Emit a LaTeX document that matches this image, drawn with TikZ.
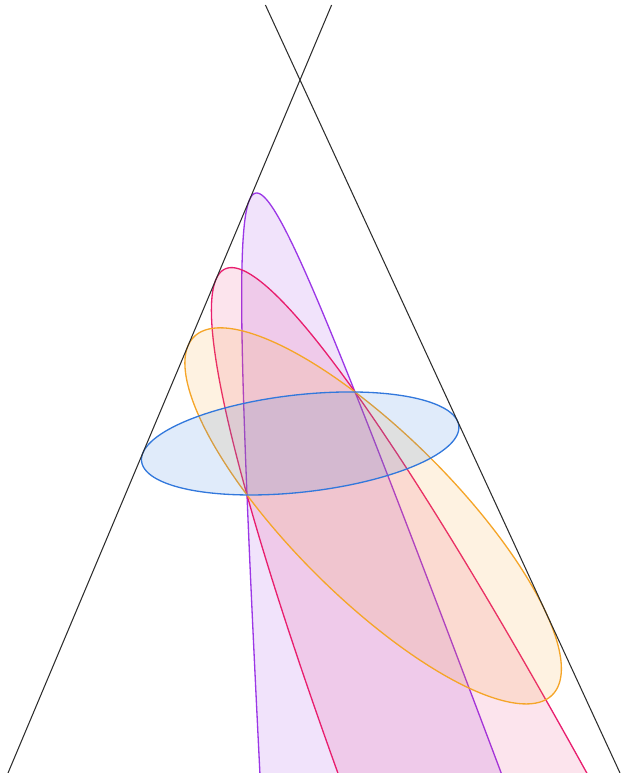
\documentclass[tikz,border=0pt]{standalone}
\definecolor{cblue}{RGB}{50,120,220}
\definecolor{corange}{RGB}{245,165,40}
\definecolor{cpink}{RGB}{232,30,110}
\definecolor{cpurple}{RGB}{155,55,230}
\definecolor{cline}{RGB}{45,45,45}
% common points P1, P2 in the (a,b) frame spanned by the two lines
\pgfmathsetmacro\aP{0.3997}
\pgfmathsetmacro\bP{0.1991}
\pgfmathsetmacro\aQ{0.14554}
\pgfmathsetmacro\bQ{0.30468}
\pgfmathsetmacro\rr{sqrt(\aP*\bP/(\aQ*\bQ))}
\pgfmathsetmacro\Ca{\aP+\rr*\aQ}
\pgfmathsetmacro\Cb{\bP+\rr*\bQ}
\pgfmathsetmacro\Cc{1+\rr}
\newcommand\setconic[1]{%
  \pgfmathsetmacro\CP{1/#1}%
  \pgfmathsetmacro\CQ{(\Cc-\Ca*\CP)/\Cb}%
  \pgfmathsetmacro\CMM{\CP*\aP+\CQ*\bP-1}%
  \pgfmathsetmacro\CS{sqrt(\CMM*\CMM/(\aP*\bP))}%
  \pgfmathsetmacro\CU{(\CP+\CQ)/2}%
  \pgfmathsetmacro\CV{(\CP-\CQ)/2}%
  \pgfmathsetmacro\CW{\CS/2}%
}
\begin{document}
\begin{tikzpicture}[x=0.02cm, y=-0.02cm,
  declare function={cD(\t)=\CU+\CV*cos(\t)-\CW*sin(\t);
                    cX(\t)=300+(28-612*cos(\t))/(2*cD(\t));
                    cY(\t)=80+693/cD(\t);},
  conicpurple/.style={draw=cpurple, fill=cpurple, fill opacity=0.14, line width=0.75pt},
  conicpink/.style={draw=cpink, fill=cpink, fill opacity=0.12, line width=0.75pt},
  conicorange/.style={draw=corange, fill=corange, fill opacity=0.14, line width=0.75pt},
  conicblue/.style={draw=cblue, fill=cblue, fill opacity=0.15, line width=0.75pt},
  blackline/.style={draw=cline, line width=0.6pt}]
\useasboundingbox (0,0) rectangle (622,773);
\clip (0,0) rectangle (622,773);
\coordinate (A) at (300,80);
\coordinate (L1t) at (331.6,5);
\coordinate (L1b) at (8,773);
\coordinate (L2t) at (265.4,5);
\coordinate (L2b) at (620,773);
% purple (hyperbola branch)
\setconic{0.1732}
\pgfmathsetmacro\CR{sqrt(\CV*\CV+\CW*\CW)}
\pgfmathsetmacro\Cd{atan2(\CW,\CV)}
\pgfmathsetmacro\Cg{acos((0.36-\CU)/\CR)}
\pgfmathsetmacro\dA{-\Cd-\Cg}
\pgfmathsetmacro\dB{-\Cd+\Cg}
\path[conicpurple] plot[domain=\dA:\dB, samples=800, variable=\t] ({cX(\t)},{cY(\t)}) -- cycle;
% pink
\setconic{0.288}
\path[conicpink] plot[domain=-180:180, samples=721, variable=\t] ({cX(\t)},{cY(\t)}) -- cycle;
% orange
\setconic{0.3837}
\path[conicorange] plot[domain=-180:180, samples=721, variable=\t] ({cX(\t)},{cY(\t)}) -- cycle;
% blue
\setconic{0.538}
\path[conicblue] plot[domain=-180:180, samples=721, variable=\t] ({cX(\t)},{cY(\t)}) -- cycle;
% the two lines
\draw[blackline] (L1t) -- (L1b);
\draw[blackline] (L2t) -- (L2b);
\end{tikzpicture}
\end{document}
